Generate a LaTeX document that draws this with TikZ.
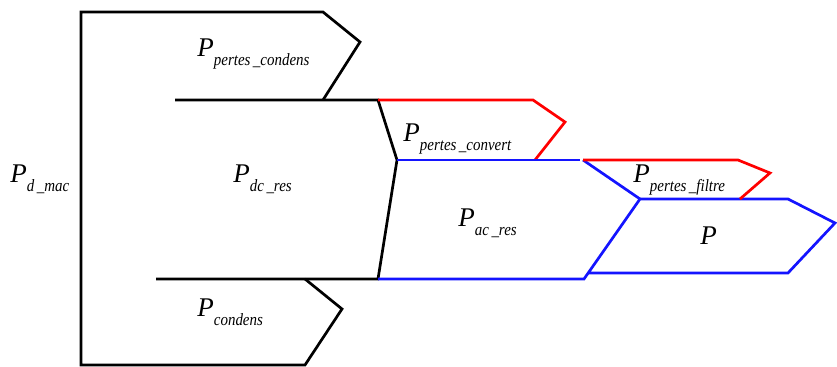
\documentclass[tikz,border=0pt]{standalone}
\usepackage{fontspec}
\usepackage{graphicx}
\setmainfont{Liberation Serif}
\newcommand{\plabel}[1]{\textit{P}\raisebox{-4.5pt}{\scalebox{0.87}[1]{\fontsize{8.6}{9}\selectfont\itshape #1}}}
\tikzset{
  flow/.style={line width=1.35pt, line join=miter},
  blk/.style={flow, draw=black},
  redl/.style={flow, draw={rgb,255:red,255;green,0;blue,0}},
  bluel/.style={flow, draw={rgb,255:red,20;green,20;blue,255}},
  lbl/.style={anchor=base west, inner sep=0pt, font=\fontsize{13.5}{14}\selectfont}
}
\begin{document}
\begin{tikzpicture}[x=0.5pt,y=-0.5pt]
\useasboundingbox (0,0) rectangle (837,367);
% black shapes
\draw[blk] (323,100) -- (360,42) -- (323,12) -- (81,12) -- (81,365) -- (305,365) -- (342,309) -- (305,279);
\draw[blk] (175,100) -- (378,100) -- (397,160) -- (378,279) -- (156,279);
% converter losses
\draw[redl] (378,100) -- (533,100) -- (565,122) -- (535,160);
\draw[bluel] (397,160) -- (580,160);
% ac output
\draw[bluel] (378,279) -- (584,279) -- (640,199) -- (788,199) -- (835,223) -- (788,273) -- (588,273);
\draw[bluel] (583,160) -- (640,199);
\draw[redl] (583,160) -- (738,160) -- (770,173) -- (740,199);
% labels
\node[lbl] (pcond) at (197,57) {\plabel{pertes\,\_condens}};
\node[lbl] (pdmac) at (10,183) {\plabel{d\,\_mac}};
\node[lbl] (pdc) at (233,183) {\plabel{dc\,\_res}};
\node[lbl] (pcd) at (197,317) {\plabel{condens}};
\node[lbl] (pconv) at (403,142) {\plabel{pertes\,\_convert}};
\node[lbl] (pac) at (458,227) {\plabel{ac\,\_res}};
\node[lbl] (pfil) at (633,183) {\plabel{pertes\,\_filtre}};
\node[lbl] (pout) at (700,245) {\textit{P}};
\end{tikzpicture}
\end{document}
